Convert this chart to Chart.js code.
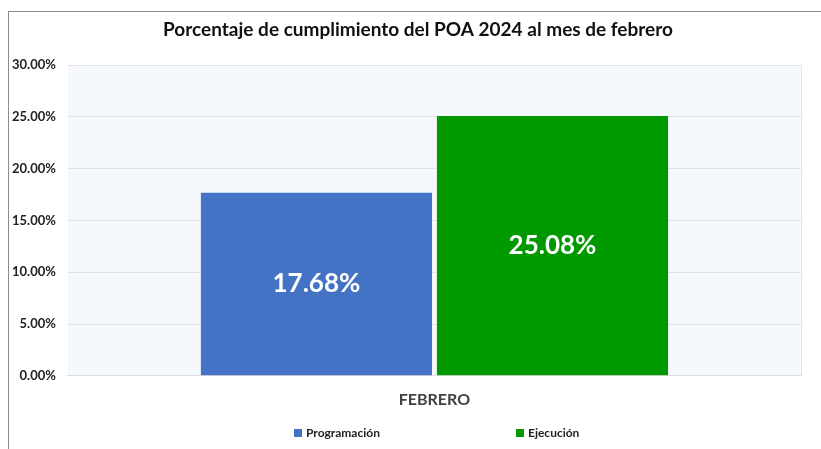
<!DOCTYPE html>
<html lang="es">
<head>
  <meta charset="UTF-8" />
  <title>Porcentaje de cumplimiento del POA 2024</title>
  <script src="https://cdn.jsdelivr.net/npm/chart.js"></script>
  <style>
    body { margin: 0; background: #ffffff; font-family: Lato, "Open Sans", sans-serif; }
    .wrap { position: relative; width: 821px; height: 449px; overflow: hidden; }
    .frame { position: absolute; left: 8px; top: 11px; width: 900px; height: 600px;
             border-top: 1px solid #8c8c8c; border-left: 1px solid #8c8c8c; }
    canvas { position: absolute; left: 8px; top: 0; }
    .legend { position: absolute; top: 425px; font-weight: bold; font-size: 12px; color: #222; }
    .legend span.box { display: inline-block; width: 8px; height: 8px; margin-right: 4px; vertical-align: 0px; }
  </style>
</head>
<body>
  <div class="wrap">
    <div class="frame"></div>
    <canvas id="poaChart" width="813" height="449"></canvas>
    <div class="legend" style="left:294px"><span class="box" style="background:#4472c4"></span>Programación</div>
    <div class="legend" style="left:516px"><span class="box" style="background:#009900"></span>Ejecución</div>
  </div>

  <script>
    const chartTitle = "Porcentaje de cumplimiento del POA 2024 al mes de febrero";
    const categories = ["FEBRERO"];
    const programacion = [17.68];
    const ejecucion = [25.08];
    const yTicks = [0, 5, 10, 15, 20, 25, 30];

    const fontFamily = 'Lato, "Open Sans", sans-serif';

    // plot background, title and value labels
    const plotDecor = {
      id: "plotDecor",
      beforeDraw(chart) {
        const { ctx, chartArea: a } = chart;
        ctx.save();
        ctx.fillStyle = "#f5f8fc";
        ctx.fillRect(a.left, a.top, a.right - a.left, a.bottom - a.top);
        ctx.strokeStyle = "#e6e6e6";
        ctx.lineWidth = 1;
        ctx.beginPath();
        ctx.moveTo(a.right + 0.5, a.top);
        ctx.lineTo(a.right + 0.5, a.bottom);
        ctx.stroke();

        ctx.fillStyle = "#111111";
        ctx.font = "bold 19px " + fontFamily;
        ctx.textAlign = "center";
        ctx.textBaseline = "middle";
        ctx.fillText(chartTitle, 410, 30);
        ctx.restore();
      },
      afterDatasetsDraw(chart) {
        const { ctx } = chart;
        ctx.save();
        ctx.fillStyle = "#ffffff";
        ctx.font = "bold 26px " + fontFamily;
        ctx.textAlign = "center";
        ctx.textBaseline = "middle";
        chart.data.datasets.forEach((ds, i) => {
          chart.getDatasetMeta(i).data.forEach((bar, j) => {
            const y = (bar.y + bar.base) / 2;
            ctx.fillText(ds.data[j].toFixed(2) + "%", bar.x, y);
          });
        });
        ctx.restore();
      }
    };

    new Chart(document.getElementById("poaChart"), {
      type: "bar",
      data: {
        labels: categories,
        datasets: [
          { label: "Programación", data: programacion, backgroundColor: "#4472c4",
            barPercentage: 0.979, categoryPercentage: 0.644 },
          { label: "Ejecución", data: ejecucion, backgroundColor: "#009900",
            barPercentage: 0.979, categoryPercentage: 0.644 }
        ]
      },
      options: {
        responsive: false,
        animation: false,
        layout: { padding: { top: 65, right: 20, bottom: 34, left: -8 } },
        plugins: {
          legend: { display: false },
          tooltip: { enabled: false },
          title: { display: false }
        },
        scales: {
          x: {
            grid: { display: false },
            border: { color: "#dcdcdc" },
            ticks: { color: "#404040", padding: 6, font: { family: fontFamily, size: 16, weight: "bold" } }
          },
          y: {
            min: 0,
            max: 30,
            afterBuildTicks(axis) { axis.ticks = yTicks.map(v => ({ value: v })); },
            grid: { color: "#e2e2e2", drawTicks: false },
            border: { display: false },
            ticks: {
              color: "#222222",
              padding: 12,
              font: { family: fontFamily, size: 13, weight: "bold" },
              callback: v => v.toFixed(2) + "%"
            }
          }
        }
      },
      plugins: [plotDecor]
    });
  </script>
</body>
</html>
